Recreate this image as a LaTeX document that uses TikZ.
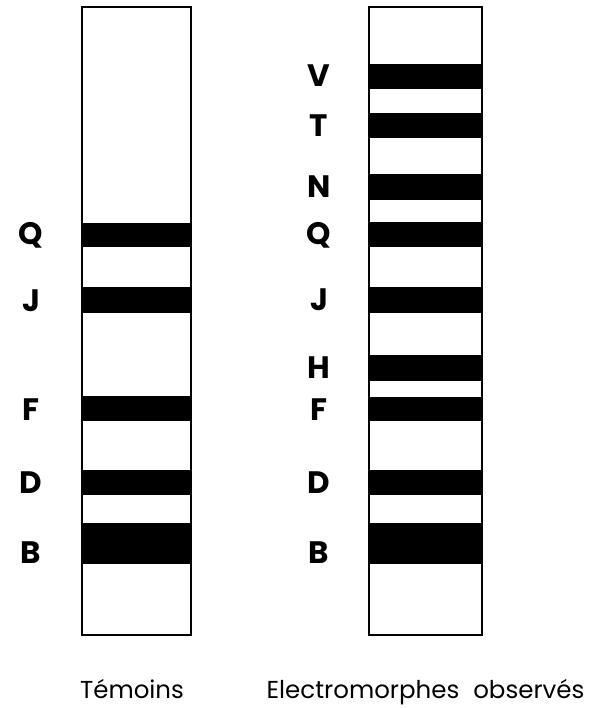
\documentclass[tikz,border=0pt]{standalone}
\usepackage{fontspec}
\setmainfont{Poppins}
\begin{document}
\begin{tikzpicture}[x=1pt,y=-1pt,
  gel/.style={draw=black,line width=2.6pt,fill=white},
  band/.style={fill=black,draw=none},
  bandlab/.style={anchor=base,font=\fontsize{31}{31}\selectfont\bfseries,inner sep=0pt},
  caption/.style={anchor=base,font=\fontsize{24.5}{24.5}\selectfont,inner sep=0pt}]
\useasboundingbox[fill=white] (0,0) rectangle (610,708);
% left lane (Temoins)
\draw[gel] (82,7) rectangle (191,635);
\fill[band] (82,223) rectangle (191,247); % Q
\fill[band] (82,287) rectangle (191,313); % J
\fill[band] (82,396) rectangle (191,421); % F
\fill[band] (82,470) rectangle (191,495); % D
\fill[band] (82,523) rectangle (191,564); % B
\draw[draw=black,line width=2.6pt] (82,7) rectangle (191,635);
% right lane
\draw[gel] (369,7) rectangle (482,635);
\fill[band] (369,64) rectangle (482,89);  % V
\fill[band] (369,113) rectangle (482,138); % T
\fill[band] (369,174) rectangle (482,200); % N
\fill[band] (369,222) rectangle (482,247); % Q
\fill[band] (369,287) rectangle (482,313); % J
\fill[band] (369,355) rectangle (482,381); % H
\fill[band] (369,397) rectangle (482,421); % F
\fill[band] (369,470) rectangle (482,495); % D
\fill[band] (369,523) rectangle (482,564); % B
\draw[draw=black,line width=2.6pt] (369,7) rectangle (482,635);
% left labels
\node[bandlab] (lQ) at (31,244) {Q};
\node[bandlab] (lJ) at (31,311) {J};
\node[bandlab] (lF) at (31,420) {F};
\node[bandlab] (lD) at (31,493) {D};
\node[bandlab] (lB) at (31,563) {B};
% right labels
\node[bandlab] (rV) at (319,87) {V};
\node[bandlab] (rT) at (319,137) {T};
\node[bandlab] (rN) at (319,198) {N};
\node[bandlab] (rQ) at (319,244) {Q};
\node[bandlab] (rJ) at (319,310) {J};
\node[bandlab] (rH) at (319,378) {H};
\node[bandlab] (rF) at (319,420) {F};
\node[bandlab] (rD) at (319,493) {D};
\node[bandlab] (rB) at (319,563) {B};
% captions
\node[caption] (cT) at (132,698) {Témoins};
\node[caption] (cE) at (425.5,698) {Electromorphes\hspace{14pt}observés};
\end{tikzpicture}
\end{document}
